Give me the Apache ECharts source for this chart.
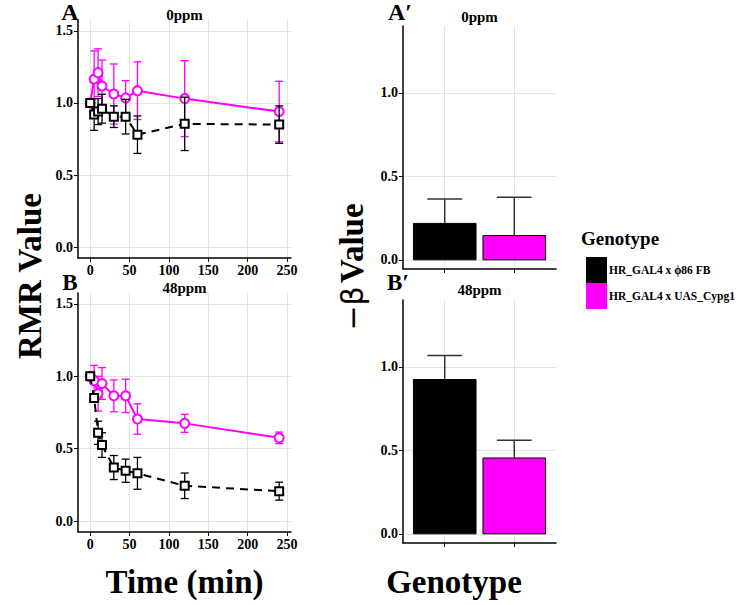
<!DOCTYPE html>
<html><head><meta charset="utf-8">
<script src="https://cdn.jsdelivr.net/npm/echarts@6/dist/echarts.min.js"></script>
<style>html,body{margin:0;padding:0;background:#fff}#c{width:739px;height:605px}</style>
</head><body><div id="c"></div>
<script>
// ---- data ----
const times = [0, 5, 10, 15, 30, 45, 60, 120, 240];
const cyp0 = [1.0, 1.166, 1.21, 1.117, 1.062, 1.035, 1.085, 1.03, 0.94];
const cyp0Err = [0, 0.195, 0.165, 0.18, 0.208, 0.12, 0.2, 0.263, 0.21];
const fb0 = [1.0, 0.92, 0.94, 0.96, 0.905, 0.905, 0.78, 0.855, 0.85];
const fb0Err = [0, 0.11, 0.09, 0.1, 0.075, 0.12, 0.13, 0.185, 0.13];
const cyp48 = [1.0, 0.97, 0.88, 0.95, 0.865, 0.865, 0.705, 0.675, 0.575];
const cyp48Err = [0, 0.105, 0.12, 0.11, 0.11, 0.115, 0.105, 0.062, 0.04];
const fb48 = [1.0, 0.85, 0.61, 0.525, 0.37, 0.348, 0.33, 0.244, 0.207];
const fb48Err = [0, 0.03, 0.08, 0.085, 0.083, 0.08, 0.11, 0.088, 0.062];
const genotypes = ['HR_GAL4 x ϕ86 FB', 'HR_GAL4 x UAS_Cypg1'];
const beta0 = [0.218, 0.145];
const beta0Err = [0.146, 0.23];
const beta48 = [0.924, 0.454];
const beta48Err = [0.144, 0.106];
const timeTicks = [0, 50, 100, 150, 200, 250];
const rmrTicks = [0, 0.5, 1.0, 1.5];
const betaTicks = [0, 0.5, 1.0];
const concentrations = ['0ppm', '48ppm'];

// ---- styling ----
const BLACK = '#000000', PINK = '#ff00ff';
const SERIF = '"Liberation Serif", serif';
const tickFont = {fontFamily: SERIF, fontWeight: 'bold', fontSize: 14, color: '#000'};
const gridColor = '#e4e4e4';

const chart = echarts.init(document.getElementById('c'), null, {renderer: 'svg'});

const grids = [
  {left: 78, top: 20, width: 213, height: 238},
  {left: 78, top: 293, width: 213, height: 239},
  {left: 403, top: 26, width: 153, height: 243},
  {left: 403, top: 300, width: 153, height: 243}
];

function timeX(i) {
  return {gridIndex: i, type: 'value', min: -15.5, max: 255,
    axisLine: {show: true, onZero: false, lineStyle: {color: '#000', width: 1.5}},
    axisTick: {show: true, length: 4, customValues: timeTicks, lineStyle: {color: '#000', width: 1}},
    axisLabel: Object.assign({customValues: timeTicks, margin: 5}, tickFont),
    splitLine: {show: true, lineStyle: {color: gridColor, width: 1}}};
}
function rmrY(i) {
  return {gridIndex: i, type: 'value', min: -0.075, max: 1.575,
    axisLine: {show: true, onZero: false, lineStyle: {color: '#000', width: 1.5}},
    axisTick: {show: true, length: 4, customValues: rmrTicks, lineStyle: {color: '#000', width: 1}},
    axisLabel: Object.assign({customValues: rmrTicks, margin: 5, formatter: v => v.toFixed(1)}, tickFont),
    splitLine: {show: true, lineStyle: {color: gridColor, width: 1}}};
}
function genoX(i) {
  return {gridIndex: i, type: 'value', min: 0.4, max: 2.6,
    axisLine: {show: true, onZero: false, lineStyle: {color: '#000', width: 1.5}},
    axisTick: {show: true, length: 4, customValues: [1, 2], lineStyle: {color: '#000', width: 1}},
    axisLabel: {show: false, customValues: [1, 2]},
    splitLine: {show: true, lineStyle: {color: gridColor, width: 1}}};
}
function betaY(i) {
  return {gridIndex: i, type: 'value', min: -0.055, max: 1.40,
    axisLine: {show: true, onZero: false, lineStyle: {color: '#000', width: 1.5}},
    axisTick: {show: true, length: 4, customValues: betaTicks, lineStyle: {color: '#000', width: 1}},
    axisLabel: Object.assign({customValues: betaTicks, margin: 5, formatter: v => v.toFixed(1)}, tickFont),
    splitLine: {show: true, lineStyle: {color: gridColor, width: 1}}};
}

function errRender(color, capPx) {
  return function (params, api) {
    const x = api.value(0), lo = api.value(1), hi = api.value(2);
    if (hi - lo <= 0) return null;
    const p1 = api.coord([x, hi]), p2 = api.coord([x, lo]);
    const h = capPx / 2, st = {stroke: color, lineWidth: 1.3};
    return {type: 'group', children: [
      {type: 'line', shape: {x1: p1[0], y1: p1[1], x2: p2[0], y2: p2[1]}, style: st},
      {type: 'line', shape: {x1: p1[0] - h, y1: p1[1], x2: p1[0] + h, y2: p1[1]}, style: st},
      {type: 'line', shape: {x1: p2[0] - h, y1: p2[1], x2: p2[0] + h, y2: p2[1]}, style: st}
    ]};
  };
}
function errData(means, errs) {
  return times.map((t, i) => [t, means[i] - errs[i], means[i] + errs[i]]);
}
function lineData(means) { return times.map((t, i) => [t, means[i]]); }

function timeSeries(gi, cyp, cypErr, fb, fbErr) {
  return [
    {type: 'custom', xAxisIndex: gi, yAxisIndex: gi, renderItem: errRender(PINK, 8),
      encode: {x: 0, y: [1, 2]}, data: errData(cyp, cypErr), z: 2, silent: true},
    {type: 'line', xAxisIndex: gi, yAxisIndex: gi, data: lineData(cyp), z: 3,
      symbol: 'emptyCircle', symbolSize: 9, showAllSymbol: true,
      lineStyle: {color: PINK, width: 2}, itemStyle: {color: PINK, borderWidth: 0.9}},
    {type: 'custom', xAxisIndex: gi, yAxisIndex: gi, renderItem: errRender(BLACK, 8),
      encode: {x: 0, y: [1, 2]}, data: errData(fb, fbErr), z: 4, silent: true},
    {type: 'line', xAxisIndex: gi, yAxisIndex: gi, data: lineData(fb), z: 5,
      symbol: 'emptyRect', symbolSize: 8, showAllSymbol: true,
      lineStyle: {color: BLACK, width: 2, type: [8, 6]}, itemStyle: {color: BLACK, borderWidth: 0.9}}
  ];
}

function barRender(params, api) {
  const x = api.value(0), v = api.value(1);
  const tl = api.coord([x - 0.45, v]), br = api.coord([x + 0.45, 0]);
  return {type: 'rect', shape: {x: tl[0], y: tl[1], width: br[0] - tl[0], height: br[1] - tl[1]},
    style: {fill: api.visual('color'), stroke: '#000', lineWidth: 1}};
}
function barErrRender(params, api) {
  const x = api.value(0), v = api.value(1), hi = api.value(2);
  const p1 = api.coord([x, v]), p2 = api.coord([x, hi]);
  const c1 = api.coord([x - 0.25, hi]), c2 = api.coord([x + 0.25, hi]);
  const st = {stroke: '#333', lineWidth: 1.5};
  return {type: 'group', children: [
    {type: 'line', shape: {x1: p1[0], y1: p1[1], x2: p2[0], y2: p2[1]}, style: st},
    {type: 'line', shape: {x1: c1[0], y1: c1[1], x2: c2[0], y2: c2[1]}, style: st}
  ]};
}
function betaSeries(gi, vals, errs) {
  const colors = [BLACK, PINK];
  const s = [];
  genotypes.forEach((g, k) => {
    s.push({type: 'custom', name: g, xAxisIndex: gi, yAxisIndex: gi, renderItem: barRender,
      itemStyle: {color: colors[k]}, encode: {x: 0, y: 1}, data: [[k + 1, vals[k]]], z: 2});
  });
  s.push({type: 'custom', xAxisIndex: gi, yAxisIndex: gi, renderItem: barErrRender, silent: true,
    encode: {x: 0, y: [1, 2]}, data: genotypes.map((g, k) => [k + 1, vals[k], vals[k] + errs[k]]), z: 3});
  return s;
}

function txt(text, x, y, size, opts) {
  opts = opts || {};
  return {type: 'text', x: x, y: y, silent: true, rotation: opts.rotation || 0,
    style: {text: text, fontFamily: SERIF, fontWeight: 'bold', fontSize: size, fill: '#000',
      align: opts.align || 'center', verticalAlign: 'middle'}};
}

const option = {
  backgroundColor: '#fff',
  animation: false,
  grid: grids,
  xAxis: [timeX(0), timeX(1), genoX(2), genoX(3)],
  yAxis: [rmrY(0), rmrY(1), betaY(2), betaY(3)],
  legend: {
    orient: 'vertical', left: 581, top: 252, itemWidth: 21, itemHeight: 26, itemGap: 0,
    selectedMode: false,
    data: [
      {name: genotypes[0], icon: 'rect', itemStyle: {color: BLACK, borderWidth: 0}},
      {name: genotypes[1], icon: 'rect', itemStyle: {color: PINK, borderWidth: 0}}
    ],
    textStyle: {fontFamily: SERIF, fontWeight: 'bold', fontSize: 11.5, color: '#000', padding: [0, 0, 0, -3]}
  },
  series: [].concat(
    timeSeries(0, cyp0, cyp0Err, fb0, fb0Err),
    timeSeries(1, cyp48, cyp48Err, fb48, fb48Err),
    betaSeries(2, beta0, beta0Err),
    betaSeries(3, beta48, beta48Err)
  ),
  graphic: [
    txt(concentrations[0], 184.5, 15, 15),
    txt(concentrations[1], 184.5, 288, 15),
    txt(concentrations[0], 479.5, 17, 15),
    txt(concentrations[1], 479.5, 290, 15),
    txt('A', 70, 12, 24),
    txt('B', 70, 282, 23),
    txt('A\u2032', 400, 12, 24),
    txt('B\u2032', 398, 282, 23),
    txt('RMR Value', 30, 276, 33, {rotation: Math.PI / 2}),
    txt('Time (min)', 184.5, 582, 33),
    txt('Genotype', 454, 582, 33),
    {type: 'text', x: 352, y: 267, rotation: Math.PI / 2, silent: true,
      style: {text: '{a|\u2212\u03b2} {b|Value}', align: 'center', verticalAlign: 'middle', fill: '#000',
        rich: {a: {fontFamily: '"DejaVu Sans"', fontSize: 30, fill: '#000'},
               b: {fontFamily: SERIF, fontWeight: 'bold', fontSize: 33, fill: '#000'}}}},
    txt('Genotype', 581, 238, 19, {align: 'left'})
  ]
};
chart.setOption(option);
</script></body></html>
